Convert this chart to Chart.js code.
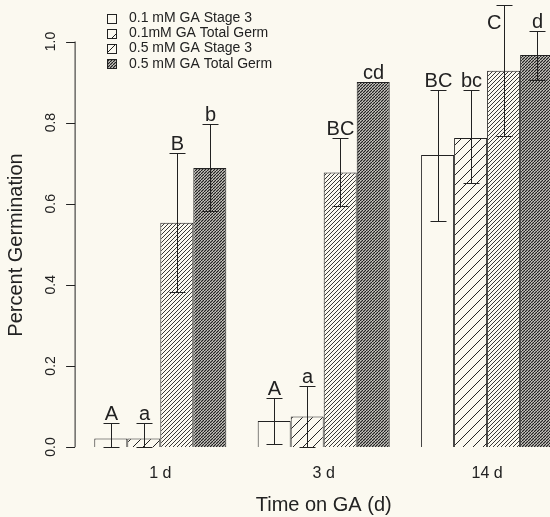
<!DOCTYPE html>
<html lang="en">
<head>
    <meta charset="UTF-8">
    <title>Percent Germination vs Time on GA</title>
    <script src="https://cdn.jsdelivr.net/npm/chart.js"></script>
    <style>
        body {
            margin: 0;
            padding: 0;
            width: 550px;
            height: 517px;
            overflow: hidden;
            background-color: #fbf9f0;
        }
        #wrap {
            width: 570px;
            height: 517px;
        }
    </style>
</head>
<body>
<div id="wrap">
    <canvas id="germChart" width="570" height="517"></canvas>
</div>

<script>
    // data
    const categories = ['1 d', '3 d', '14 d'];
    const seriesNames = ['0.1 mM GA Stage 3', '0.1mM GA Total Germ', '0.5 mM GA Stage 3', '0.5 mM GA Total Germ'];
    const ga01Stage3 = [0.021, 0.064, 0.720];
    const ga01Total  = [0.021, 0.075, 0.762];
    const ga05Stage3 = [0.553, 0.677, 0.928];
    const ga05Total  = [0.688, 0.900, 0.967];
    // error bar ends (null = no bar)
    const errLow  = [[0, 0.007, 0.558], [0, 0, 0.652], [0.382, 0.595, 0.767], [0.581, null, 0.905]];
    const errHigh = [[0.058, 0.122, 0.881], [0.058, 0.151, 0.881], [0.726, 0.762, 1.090], [0.796, null, 1.027]];
    const letters = [['A', 'A', 'BC'], ['a', 'a', 'bc'], ['B', 'BC', 'C'], ['b', 'cd', 'd']];
    const yTicks = [0, 0.2, 0.4, 0.6, 0.8, 1.0];
    const yTickLabels = ['0.0', '0.2', '0.4', '0.6', '0.8', '1.0'];

    const BG = '#fbf9f0';
    const INK = '#222';
    const FONT = 'Liberation Sans, Arial, sans-serif';

    // diagonal hatch tile, lines going "/"
    function hatch(period, lw) {
        const c = document.createElement('canvas');
        c.width = period;
        c.height = period;
        const g = c.getContext('2d');
        g.fillStyle = BG;
        g.fillRect(0, 0, period, period);
        g.strokeStyle = INK;
        g.lineWidth = lw;
        g.beginPath();
        for (let k = -1; k <= 1; k++) {
            g.moveTo(k * period, period);
            g.lineTo(k * period + period, 0);
        }
        g.stroke();
        return g.createPattern(c, 'repeat');
    }

    const fills = [BG, hatch(10, 1), hatch(4, 0.9), hatch(3, 1.4)];
    const legendFills = [BG, hatch(14, 1), hatch(9, 1), hatch(3, 1.4)];
    const values = [ga01Stage3, ga01Total, ga05Stage3, ga05Total];

    const axisPlugin = {
        id: 'rAxis',
        afterDraw(chart) {
            const ctx = chart.ctx;
            const y = chart.scales.y;
            const ax = chart.chartArea.left - 3.5;
            ctx.save();
            ctx.strokeStyle = INK;
            ctx.lineWidth = 1;
            ctx.beginPath();
            ctx.moveTo(ax, y.getPixelForValue(yTicks[0]));
            ctx.lineTo(ax, y.getPixelForValue(yTicks[yTicks.length - 1]));
            yTicks.forEach(v => {
                const py = Math.round(y.getPixelForValue(v)) + 0.5;
                ctx.moveTo(ax, py);
                ctx.lineTo(ax - 9, py);
            });
            ctx.stroke();

            ctx.fillStyle = INK;
            ctx.font = '14px ' + FONT;
            ctx.textAlign = 'center';
            ctx.textBaseline = 'alphabetic';
            yTicks.forEach((v, i) => {
                ctx.save();
                ctx.translate(ax - 20, y.getPixelForValue(v));
                ctx.rotate(-Math.PI / 2);
                ctx.fillText(yTickLabels[i], 0, 0);
                ctx.restore();
            });

            ctx.save();
            ctx.font = '20px ' + FONT;
            ctx.translate(22, 245);
            ctx.rotate(-Math.PI / 2);
            ctx.fillText('Percent Germination', 0, 0);
            ctx.restore();

            // legend
            ctx.font = '14px ' + FONT;
            ctx.textAlign = 'left';
            ctx.textBaseline = 'middle';
            seriesNames.forEach((name, i) => {
                const cy = 18 + i * 15.3;
                const bx = 107, by = Math.round(cy - 4.5);
                const f = legendFills[i];
                if (typeof f !== 'string') f.setTransform(new DOMMatrix().translate(bx, by));
                ctx.fillStyle = f;
                ctx.fillRect(bx, by, 9, 9);
                ctx.strokeStyle = INK;
                ctx.strokeRect(bx + 0.5, by + 0.5, 9, 9);
                ctx.fillStyle = INK;
                ctx.fillText(name, 129, cy);
            });
            ctx.restore();
        },
        afterDatasetsDraw(chart) {
            const ctx = chart.ctx;
            const y = chart.scales.y;
            ctx.save();
            ctx.strokeStyle = INK;
            ctx.fillStyle = INK;
            ctx.lineWidth = 1;
            ctx.font = '20px ' + FONT;
            ctx.textBaseline = 'alphabetic';
            chart.data.datasets.forEach((ds, si) => {
                const meta = chart.getDatasetMeta(si);
                meta.data.forEach((bar, ci) => {
                    const x = Math.round(bar.x) + 0.5;
                    const hi = errHigh[si][ci];
                    const lo = errLow[si][ci];
                    let topY = y.getPixelForValue(values[si][ci]);
                    if (hi !== null) {
                        const yh = Math.round(y.getPixelForValue(hi)) + 0.5;
                        const yl = Math.round(y.getPixelForValue(lo)) + 0.5;
                        ctx.beginPath();
                        ctx.moveTo(x, yl);
                        ctx.lineTo(x, yh);
                        ctx.moveTo(x - 8, yh);
                        ctx.lineTo(x + 8, yh);
                        ctx.moveTo(x - 8, yl);
                        ctx.lineTo(x + 8, yl);
                        ctx.stroke();
                        topY = yh;
                    }
                    const base = topY - 3.5;
                    if (base - 15 < chart.chartArea.top) {
                        ctx.textAlign = 'right';
                        ctx.fillText(letters[si][ci], x - 3, topY + 23);
                    } else {
                        ctx.textAlign = 'center';
                        ctx.fillText(letters[si][ci], x, base);
                    }
                });
            });
            ctx.restore();
        }
    };

    const ctx = document.getElementById('germChart').getContext('2d');
    new Chart(ctx, {
        type: 'bar',
        data: {
            labels: categories,
            datasets: seriesNames.map((name, i) => ({
                label: name,
                data: values[i],
                backgroundColor: fills[i],
                borderColor: INK,
                borderWidth: 1,
                categoryPercentage: 0.808,
                barPercentage: 1.0
            }))
        },
        options: {
            responsive: false,
            animation: false,
            layout: { padding: { left: 78.6, right: 1.2, top: 1, bottom: 0 } },
            plugins: {
                legend: { display: false },
                tooltip: { enabled: false }
            },
            scales: {
                x: {
                    grid: { display: false, drawTicks: false },
                    border: { display: false },
                    ticks: { color: INK, font: { family: FONT, size: 16 }, padding: 17 },
                    title: {
                        display: true,
                        text: 'Time on GA (d)',
                        color: INK,
                        font: { family: FONT, size: 20 },
                        padding: { top: 0, bottom: 0 }
                    },
                    afterFit(scale) { scale.height = 70; }
                },
                y: {
                    display: false,
                    min: 0,
                    max: 1.1
                }
            }
        },
        plugins: [axisPlugin]
    });
</script>
</body>
</html>
